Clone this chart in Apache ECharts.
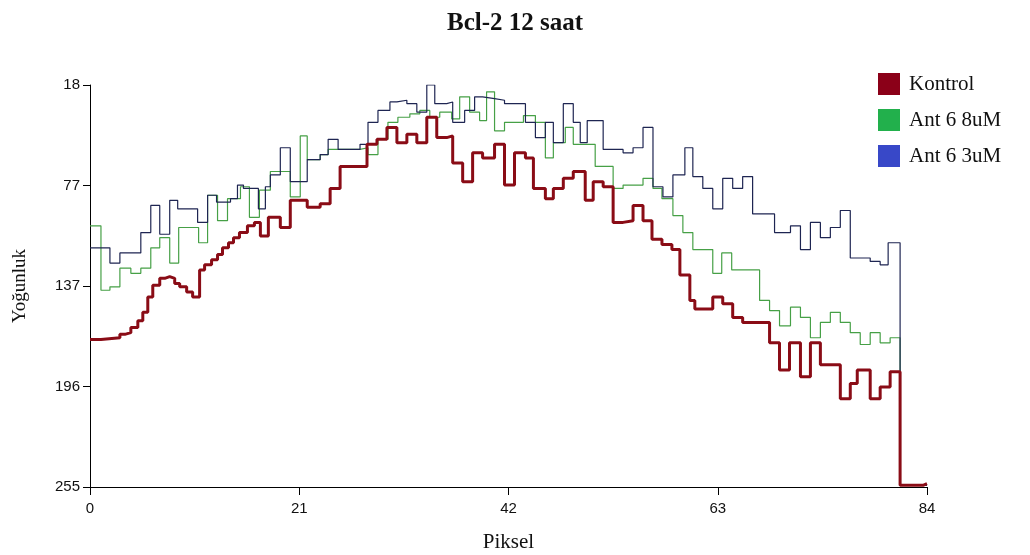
<!DOCTYPE html>
<html>
<head>
<meta charset="utf-8">
<script src="https://cdn.jsdelivr.net/npm/echarts@6/dist/echarts.min.js"></script>
<style>
html,body{margin:0;padding:0;background:#fff;}
#chart{width:1030px;height:555px;}
</style>
</head>
<body>
<div id="chart"></div>
<script>
// Tick values / labels
const xTicks = [0, 21, 42, 63, 84];
const yTickValues = [18, 77.25, 136.5, 195.75, 255];
const yTickLabels = ['18', '77', '137', '196', '255'];
const seriesNames = ['Kontrol', 'Ant 6 8uM', 'Ant 6 3uM'];

// Kontrol: [Piksel, Yoğunluk] — each value holds until next Piksel
const kontrol = [
  [0,168],[1.1,167],[3.0,165],[3.5,164],[4.1,161],[4.8,157],[5.3,152],[5.8,143],[6.3,136],[7.0,132],
  [7.5,131],[8.0,132],[8.5,135],[9.0,137],[9.7,140],[10.3,143],[11.0,127],[11.5,124],[12.2,121],[12.8,118],
  [13.3,114],[13.9,111],[14.4,108],[15.0,105],[15.8,101],[16.5,99],[17.1,107],[17.9,96],[19.1,102],[20.1,86],
  [21.8,90],[23.1,88],[24.1,79],[25.1,66],[27.8,53],[28.8,50],[29.8,43],[30.8,52],[31.8,47],[32.8,52],
  [33.8,37],[34.8,49],[35.8,48],[36.4,64],[37.4,75],[38.4,58],[39.4,61],[40.6,53],[41.6,77],[42.6,58],
  [43.7,61],[44.5,79],[45.7,85],[46.5,79],[47.5,73],[48.5,69],[49.7,86],[50.5,75],[51.5,78],[52.5,99],
  [53.5,98],[54.5,89],[55.5,98],[56.4,109],[57.4,112],[58.4,115],[59.2,130],[60.2,145],[60.7,150],[62.5,143],
  [63.5,147],[64.5,155],[65.5,158],[68.2,170],[69.2,186],[70.2,170],[71.3,190],[72.3,170],[73.3,183],[75.3,203],
  [76.3,194],[77.0,186],[78.3,203],[79.3,196],[80.3,187],[81.3,254],[83.6,253],[84,253]
];

// Ant 6 8uM
const ant8 = [
  [0,101],[1.1,139],[2.0,137],[3.0,126],[4.1,129],[5.1,126],[6.1,114],[7.0,108],[8.0,123],[8.9,102],
  [10.9,111],[11.8,83],[12.8,98],[13.8,85],[15.1,78],[16.0,96],[17.0,80],[18.1,69],[20.1,84],[21.1,48],
  [21.8,62],[23.1,59],[23.9,56],[27.1,55],[27.9,59],[28.9,50],[29.9,40],[30.9,37],[32.1,35],[33.1,33],
  [34.1,37],[35.1,34],[36.3,38],[37.1,25],[38.1,34],[39.1,39],[39.8,22],[40.6,45],[41.6,40],[43.5,36],
  [44.7,40],[45.7,61],[46.5,52],[47.7,43],[48.5,53],[50.7,66],[52.5,79],[53.5,77],[55.5,73],[56.5,79],
  [57.4,85],[58.5,95],[59.5,105],[60.5,115],[62.5,129],[63.4,117],[64.4,127],[67.2,145],[68.2,151],[69.2,160],
  [70.3,149],[71.3,155],[72.3,167],[73.3,158],[74.3,152],[75.3,158],[76.3,164],[77.3,171],[78.3,164],[79.3,170],
  [80.3,167],[81.3,254],[84,254]
];

// Ant 6 3uM
const ant3 = [
  [0,114],[2.0,123],[3.0,117],[4.0,117],[5.1,105],[6.1,89],[7.0,106],[8.0,86],[8.8,91],[10.8,99],
  [11.8,83],[12.7,87],[14.1,85],[14.8,77],[15.4,79],[16.9,91],[17.6,78],[18.1,71],[19.1,55],[20.1,75],
  [21.8,62],[23.1,59],[23.9,50],[24.9,56],[27.1,53],[27.9,40],[28.9,33],[30.1,28],[30.8,27],[31.8,29],
  [32.8,34],[33.8,18],[34.6,29],[35.8,28],[36.4,40],[37.6,33],[38.6,25],[39.4,26],[40.6,27],[41.6,29],
  [43.7,40],[44.7,49],[45.7,40],[46.5,52],[47.5,29],[48.5,40],[49.2,52],[49.9,39],[51.5,56],[53.5,58],
  [54.5,55],[55.5,43],[56.5,78],[57.5,84],[58.5,71],[59.7,55],[60.5,72],[61.5,79],[62.5,91],[63.5,73],
  [64.5,79],[65.5,72],[66.5,94],[68.7,105],[70.3,101],[71.3,115],[72.3,99],[73.3,108],[74.3,102],[75.3,92],
  [76.3,120],[78.3,122],[79.3,124],[80.1,111],[81.3,254],[84,254]
];

const lineColors = ['#8a0c16', '#46a046', '#1e2552'];
const legendColors = ['#8b0018', '#22b04c', '#3848c8'];

const chart = echarts.init(document.getElementById('chart'), null, {renderer: 'canvas'});
const serif = "'Liberation Serif', 'Times New Roman', serif";
const sans = "'Liberation Sans Narrow', 'Liberation Sans', Arial, sans-serif";

function mkSeries(idx, data, width, z) {
  return {
    name: seriesNames[idx],
    type: 'line',
    step: 'end',
    data: data,
    showSymbol: false,
    symbol: 'none',
    z: z,
    animation: false,
    itemStyle: {color: legendColors[idx]},
    lineStyle: {color: lineColors[idx], width: width}
  };
}

chart.setOption({
  backgroundColor: '#ffffff',
  animation: false,
  title: {
    text: 'Bcl-2 12 saat',
    left: 'center',
    top: 6,
    textStyle: {fontFamily: serif, fontWeight: 'bold', fontSize: 25, color: '#111'}
  },
  legend: {
    orient: 'vertical',
    left: 873,
    top: 68,
    icon: 'rect',
    itemWidth: 22,
    itemHeight: 22,
    itemGap: 14,
    data: seriesNames.map((n, i) => ({name: n, itemStyle: {color: legendColors[i]}})),
    textStyle: {fontFamily: serif, fontSize: 21, color: '#111', padding: [0, 0, 0, 4]}
  },
  grid: {left: 90, right: 103, top: 85, bottom: 68, containLabel: false, outerBoundsMode: 'none'},
  xAxis: {
    type: 'value',
    min: 0, max: 84, interval: 21,
    name: 'Piksel',
    nameLocation: 'middle',
    nameGap: 45,
    nameTextStyle: {fontFamily: serif, fontSize: 21, color: '#111'},
    axisLine: {show: true, lineStyle: {color: '#000', width: 1}},
    axisTick: {show: true, length: 8, lineStyle: {color: '#000'}},
    axisLabel: {fontFamily: sans, fontSize: 15, color: '#111', margin: 14},
    splitLine: {show: false}
  },
  yAxis: {
    type: 'value',
    inverse: true,
    min: 18, max: 255,
    name: 'Yoğunluk',
    nameLocation: 'middle',
    nameGap: 60,
    nameRotate: 90,
    nameTextStyle: {fontFamily: serif, fontSize: 19, color: '#111'},
    axisLine: {show: true, lineStyle: {color: '#000', width: 1}},
    axisTick: {show: true, length: 7, lineStyle: {color: '#000'}, customValues: yTickValues},
    axisLabel: {
      fontFamily: sans, fontSize: 15, color: '#111', margin: 10,
      customValues: yTickValues,
      formatter: v => yTickLabels[yTickValues.indexOf(v)] ?? String(Math.round(v))
    },
    splitLine: {show: false}
  },
  series: [
    mkSeries(1, ant8, 1.2, 2),
    mkSeries(2, ant3, 1.2, 3),
    mkSeries(0, kontrol, 3, 4)
  ]
});
</script>
</body>
</html>
